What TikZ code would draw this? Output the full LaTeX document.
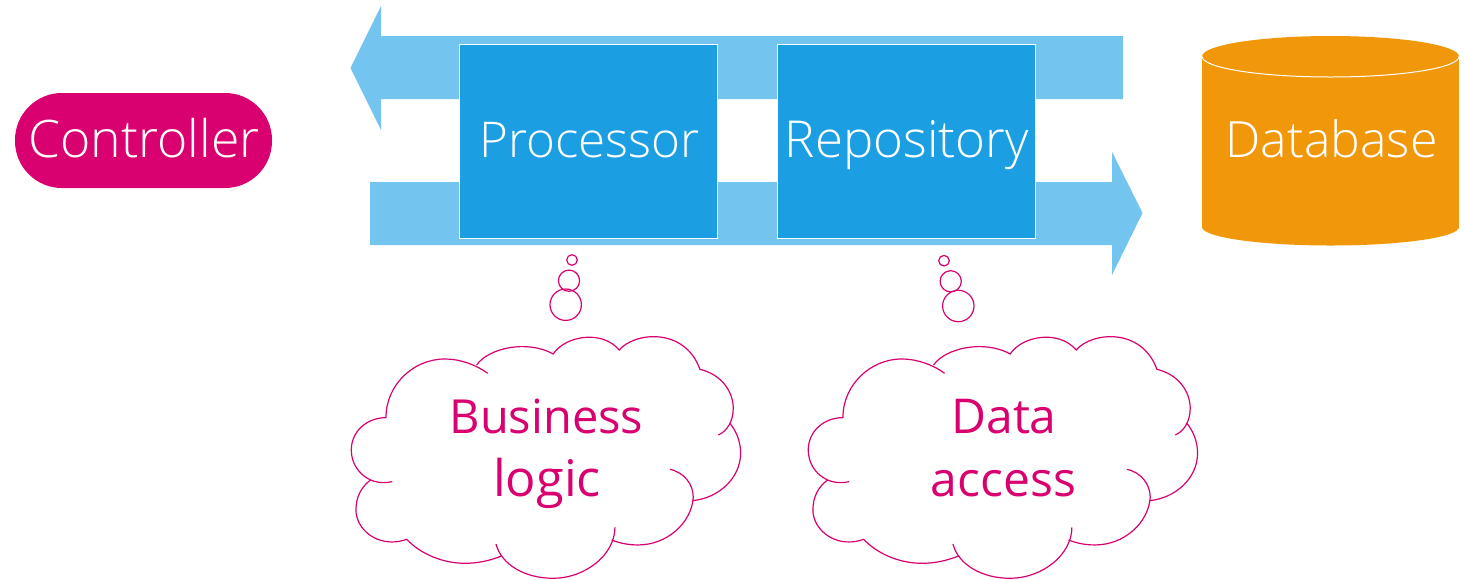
\documentclass[tikz,border=0pt]{standalone}
\usepackage{fontspec}
\setmainfont{Open Sans}
\newfontfamily\lightfont{Open Sans Light}
\definecolor{magentaC}{HTML}{D9006F}
\definecolor{arrowC}{HTML}{73C5EF}
\definecolor{boxC}{HTML}{1C9FE2}
\definecolor{dbC}{HTML}{F0970A}
\newcommand{\cloudlines}{%
 (410,375) .. controls (445,325) and (560,298) .. (640,342)
 .. controls (675,288) and (785,268) .. (838,330)
 .. controls (885,275) and (1035,262) .. (1080,388)
 .. controls (1150,405) and (1180,460) .. (1180,505)
 .. controls (1180,545) and (1160,575) .. (1135,585)
 (1170,550) .. controls (1190,575) and (1202,605) .. (1202,640)
 .. controls (1202,715) and (1135,775) .. (1058,782)
 (990,688) .. controls (1035,698) and (1060,735) .. (1060,772)
 .. controls (1055,850) and (980,915) .. (895,915)
 .. controls (865,915) and (840,910) .. (815,900)
 (825,862) .. controls (825,945) and (735,1015) .. (640,1015)
 .. controls (555,1015) and (485,975) .. (468,912)
 (485,948) .. controls (450,962) and (415,970) .. (375,970)
 .. controls (305,970) and (240,940) .. (200,898)
 .. controls (185,904) and (170,906) .. (155,906)
 .. controls (95,906) and (48,860) .. (48,810)
 .. controls (48,770) and (65,740) .. (92,720)
 (157,725) .. controls (148,727) and (140,728) .. (130,728)
 .. controls (78,728) and (34,685) .. (34,630)
 .. controls (34,575) and (80,533) .. (138,533)
 .. controls (138,435) and (220,357) .. (315,357)
 .. controls (360,357) and (410,375) .. (443,400)}
\tikzset{
 whitetext/.style={font=\lightfont\fontsize{#1}{50}\selectfont, inner sep=0pt, anchor=base, text=white},
 pinktext/.style={font=\fontsize{#1}{50}\selectfont, inner sep=0pt, anchor=base, text=magentaC},
 flow/.style={fill=arrowC, draw=none},
 procbox/.style={fill=boxC, draw=white, line width=1pt, inner sep=0pt, minimum width=258pt, minimum height=194pt, anchor=north west},
 thought/.style={draw=magentaC, line width=1.2pt, fill=none}
}
\begin{document}
\begin{tikzpicture}[x=1pt,y=-1pt]
\useasboundingbox (0,0) rectangle (1464,579);
\fill[white] (0,0) rectangle (1464,579);
% controller
\node[fill=magentaC, rounded corners=47pt, minimum width=257pt, minimum height=95pt, inner sep=0pt] (ctrl) at (143.5,140.5) {};
\node[whitetext=51.7] (ctrlT) at (144,157) {Controller};
% arrows
\fill[flow] (1123,36) -- (381,36) -- (381,6) -- (350.5,68) -- (381,130) -- (381,99) -- (1123,99) -- cycle;
\fill[flow] (370,182) -- (1112,182) -- (1112,152) -- (1142.5,213) -- (1112,275) -- (1112,245) -- (370,245) -- cycle;
% boxes
\node[procbox] (proc) at (459,44) {};
\node[procbox] (repo) at (777,44) {};
\node[whitetext=49.3] (procT) at (589.5,157) {Processor};
\node[whitetext=51] (repoT) at (907,157) {Repository};
% database
\fill[dbC] (1202,56.5) rectangle (1459,227);
\fill[dbC] (1330.5,227) ellipse[x radius=128.5, y radius=18.5];
\fill[dbC] (1330.5,56.5) ellipse[x radius=128.5, y radius=20.5];
\draw[white, line width=1pt] (1202,56.5) arc[x radius=128.5, y radius=20.5, start angle=-180, delta angle=-180];
\node[whitetext=50] (dbT) at (1331.5,157) {Database};
% thought bubbles
\foreach \cx/\cy/\r in {572/260/5.3, 569/280.7/10.6, 565.7/304.7/15.7, 944/260.7/5.3, 950.7/281.3/10.6, 958.3/306/15.7}
 \draw[thought] (\cx,\cy) circle[radius=\r];
% clouds
\begin{scope}[x=0.3333pt,y=-0.3333pt,shift={(1020,720)}]
 \draw[thought] \cloudlines;
\end{scope}
\begin{scope}[x=0.3333pt,y=-0.3333pt,shift={(2391,720)}]
 \draw[thought] \cloudlines;
\end{scope}
\node[pinktext=47] (c1a) at (546.5,433) {Business};
\node[pinktext=50.5] (c1b) at (547,496) {logic};
\node[pinktext=48] (c2a) at (1004,433) {Data};
\node[pinktext=48] (c2b) at (1003.5,496) {access};
\end{tikzpicture}
\end{document}
